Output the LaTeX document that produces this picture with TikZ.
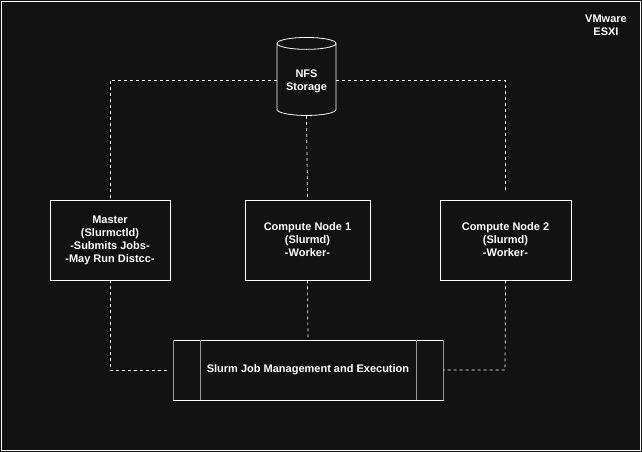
\documentclass[tikz,border=0pt]{standalone}
\usepackage{fontspec}
\setmainfont{Liberation Sans}
\usetikzlibrary{shapes.geometric}
\definecolor{bgdark}{HTML}{121212}
\begin{document}
\begin{tikzpicture}[x=1pt,y=-1pt,
    box/.style={draw=white,fill=bgdark,text=white,minimum width=#1,minimum height=80pt,align=center,line width=0.8pt,font=\fontsize{11}{13}\selectfont\bfseries},
    link/.style={draw=white,dashed,dash pattern=on 3pt off 3pt,line width=0.7pt}]
    \fill[bgdark] (0,0) rectangle (642,452);
    \draw[white,line width=0.8pt] (1,1) rectangle (640,450);
    \node[text=white,align=center,font=\fontsize{11}{13}\selectfont\bfseries] (esx) at (606,25) {VMware\\ESXI};
    \node[cylinder,shape border rotate=90,aspect=0.25,draw=white,fill=bgdark,text=white,minimum width=59pt,minimum height=78pt,align=center,line width=0.8pt,font=\fontsize{11}{13}\selectfont\bfseries] (nfs) at (306.5,81) {NFS\\Storage};
    \node[box=120pt] (master) at (110,240) {Master\\(Slurmctld)\\-Submits Jobs-\\-May Run Distcc-};
    \node[box=125pt] (cn1) at (307.5,240) {Compute Node 1\\(Slurmd)\\-Worker-};
    \node[box=131pt] (cn2) at (505.5,240) {Compute Node 2\\(Slurmd)\\-Worker-};
    \node[box=270pt,minimum height=60pt] (slurm) at (308,370) {Slurm Job Management and Execution};
    \draw[white!60!black,line width=0.8pt] (200,340) -- (200,400) (416,340) -- (416,400)
        (173,340) -- (173,400) (443,340) -- (443,400);
    \coordinate (tl) at (110,80);
    \coordinate (tr) at (505,80);
    \coordinate (re) at (505,190);
    \coordinate (bl) at (110,370);
    \coordinate (br) at (505,370);
    \coordinate (sl) at (167,370);
    \draw[link] (nfs.west |- tl) -- (tl) -- (master.north);
    \draw[link] (nfs.east |- tr) -- (tr) -- (re);
    \draw[link] (nfs.bottom) -- (cn1.north);
    \draw[link] (master.south) -- (bl) -- (sl);
    \draw[link] (cn1.south) -- (slurm.north);
    \draw[link] (cn2.south) -- (br) -- (slurm.east);
\end{tikzpicture}
\end{document}
